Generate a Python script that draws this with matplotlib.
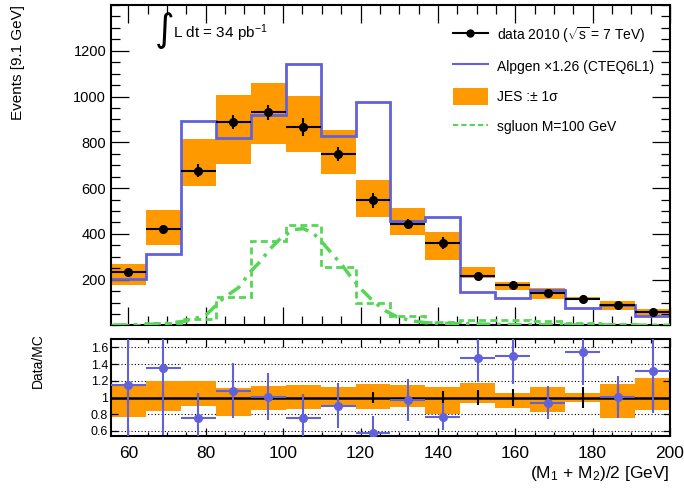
import numpy as np
import matplotlib
matplotlib.use("Agg")
import matplotlib.pyplot as plt
from matplotlib.lines import Line2D
from matplotlib.patches import Patch
from matplotlib.ticker import MultipleLocator, FixedLocator

plt.rcParams["font.family"] = ["Liberation Sans", "DejaVu Sans"]
plt.rcParams["mathtext.fontset"] = "custom"
plt.rcParams["mathtext.rm"] = "Liberation Sans"
plt.rcParams["mathtext.it"] = "Liberation Sans:italic"

# binning: 16 bins of ~9.1 GeV
edges = np.linspace(55.5, 200.0, 17)

data = [232, 420, 677, 888, 932, 866, 750, 547, 445, 361, 216, 178, 143, 117, 89, 57]
data_err = [16, 21, 27, 31, 33, 39, 30, 33, 22, 27, 19, 18, 16, 15, 13, 10]
alpgen = [203, 312, 892, 820, 921, 1142, 830, 975, 457, 474, 147, 120, 155, 75, 89, 43]
jes_lo = [178, 351, 609, 704, 791, 757, 663, 474, 394, 285, 206, 155, 115, 111, 68, 38]
jes_hi = [268, 503, 813, 1009, 1061, 1004, 852, 634, 512, 409, 256, 190, 165, 123, 107, 72]
sgluon = [4, 12, 27, 126, 368, 438, 256, 97, 43, 14, 24, 24, 20, 10, 6, 4]

# sgluon fit curve
fit_x = [56, 60, 65, 70, 75, 80, 84.6, 88.5, 91.5, 94, 96.7, 99.3, 102.7, 105.3, 108,
         110, 112.2, 115.2, 117.8, 120.4, 123.4, 126.4, 129.4, 133, 137, 145, 155, 170, 185, 200]
fit_y = [2, 3, 5, 9, 20, 45, 120, 166, 234, 278, 336, 380, 419, 423, 400,
         365, 322, 264, 206, 155, 104, 65, 38, 21, 12, 8, 5, 3, 2, 1]

# ratio panel
ratio = [1.15, 1.35, 0.76, 1.08, 1.01, 0.76, 0.90, 0.57, 0.97, 0.77, 1.47, 1.50, 0.94, 1.55, 1.01, 1.32]
ratio_err = [0.65, 0.80, 0.29, 0.33, 0.28, 0.28, 0.27, 0.21, 0.25, 0.16, 0.29, 0.34, 0.20, 0.40, 0.25, 0.50]
band_lo = [0.77, 0.84, 0.90, 0.78, 0.85, 0.86, 0.91, 0.86, 0.89, 0.80, 0.93, 0.88, 0.83, 0.95, 0.76, 0.85]
band_hi = [1.14, 1.20, 1.20, 1.11, 1.14, 1.15, 1.12, 1.16, 1.15, 1.12, 1.17, 1.06, 1.13, 1.05, 1.16, 1.23]

ORANGE = "#ff9900"
BLUE = "#6161dc"
GREEN = "#55d655"

centers = 0.5 * (edges[:-1] + edges[1:])
binw = edges[1] - edges[0]
data = np.array(data, float)
data_err = np.array(data_err, float)

fig = plt.figure(figsize=(6.84, 4.88), dpi=100)
ax = fig.add_axes([0.1623, 0.333, 0.8172, 0.6567])
ax2 = fig.add_axes([0.1623, 0.1066, 0.8172, 0.1987])

# --- top panel
ax.bar(centers, np.array(jes_hi) - np.array(jes_lo), bottom=jes_lo, width=binw,
       color=ORANGE, linewidth=0, zorder=1)
ax.stairs(alpgen, edges, baseline=None, color=BLUE, lw=2, zorder=2)
ax.stairs(sgluon, edges, baseline=None, color=GREEN, lw=2, ls=(0, (2.5, 1.5)), zorder=3)
ax.plot(fit_x, fit_y, color=GREEN, lw=2.5, ls=(0, (4, 2, 1, 2)), zorder=3)
ax.errorbar(centers, data, xerr=binw / 2, yerr=data_err, fmt="o", color="black",
            ms=5.5, elinewidth=1.5, capsize=0, zorder=5)

ax.set_xlim(edges[0], 200)
ax.set_ylim(0, 1400)
ax.yaxis.set_major_locator(FixedLocator([200, 400, 600, 800, 1000, 1200]))
ax.yaxis.set_minor_locator(MultipleLocator(50))
ax.xaxis.set_major_locator(MultipleLocator(20))
ax.xaxis.set_minor_locator(MultipleLocator(5))
ax.tick_params(which="both", direction="in", top=True, right=True, labelbottom=False,
               labelsize=10.5, width=0.9)
ax.tick_params(which="major", length=13)
ax.tick_params(which="minor", length=6.5)
for s in ax.spines.values():
    s.set_linewidth(1.5)

ax.text(-0.166, 1.0, "Events [9.1 GeV]", rotation=90, ha="center", va="top",
        fontsize=11, transform=ax.transAxes)
ax.text(0.078, 0.92, "\u222b", fontsize=27, ha="left", va="center",
        family="DejaVu Sans", transform=ax.transAxes)
ax.text(0.111, 0.896, "L dt = 34 pb$^{-1}$", fontsize=11, ha="left", va="baseline",
        transform=ax.transAxes)

handles = [
    Line2D([], [], color="black", lw=1.5, marker="o", ms=5),
    Line2D([], [], color=BLUE, lw=1.5),
    Patch(facecolor=ORANGE, edgecolor="none"),
    Line2D([], [], color=GREEN, lw=1.5, ls=(0, (2.5, 1.5))),
]
labels = [
    r"data 2010 ($\sqrt{\mathrm{s}}$ = 7 TeV)",
    "Alpgen \u00d71.26 (CTEQ6L1)",
    "JES :\u00b1 1\u03c3",
    "sgluon M=100 GeV",
]
ax.legend(handles, labels, loc="upper left", bbox_to_anchor=(0.612, 0.938),
          frameon=False, fontsize=10, handlelength=2.5, handletextpad=0.65,
          handleheight=1.5, labelspacing=0.95, borderpad=0, borderaxespad=0)

# --- ratio panel
ax2.bar(centers, np.array(band_hi) - np.array(band_lo), bottom=band_lo, width=binw,
        color=ORANGE, linewidth=0, zorder=1)
for y in [0.6, 0.8, 1.2, 1.4, 1.6]:
    ax2.axhline(y, color="black", lw=0.8, ls=(0, (1, 2)), zorder=0.5)
ax2.axhline(1.0, color="black", lw=1.8, zorder=2)
ax2.errorbar(centers, np.ones_like(centers), yerr=data_err / data, fmt="none",
             ecolor="black", elinewidth=1.5, capsize=0, zorder=3)
ax2.errorbar(centers, ratio, xerr=binw / 2, yerr=ratio_err, fmt="o", color=BLUE,
             ms=5.5, elinewidth=1.5, capsize=0, zorder=4)

ax2.set_xlim(edges[0], 200)
ax2.set_ylim(0.54, 1.70)
ax2.set_yticks([0.6, 0.8, 1.0, 1.2, 1.4, 1.6])
ax2.set_yticklabels(["0.6", "0.8", "1", "1.2", "1.4", "1.6"])
ax2.xaxis.set_major_locator(MultipleLocator(20))
ax2.xaxis.set_minor_locator(MultipleLocator(5))
ax2.tick_params(which="both", direction="in", top=True, right=True, width=0.9)
ax2.tick_params(axis="y", labelsize=9, length=5, pad=2)
ax2.tick_params(axis="x", which="major", labelsize=12.5, length=6, pad=7)
ax2.tick_params(axis="x", which="minor", length=3)
for s in ax2.spines.values():
    s.set_linewidth(1.5)

ax2.text(-0.131, 1.06, "Data/MC", rotation=90, ha="center", va="top", fontsize=10,
         transform=ax2.transAxes)
ax2.text(1.0, -0.29, "(M$_1$ + M$_2$)/2 [GeV]", ha="right", va="top", fontsize=12.5,
         transform=ax2.transAxes)

fig.savefig("out.png", dpi=100)
